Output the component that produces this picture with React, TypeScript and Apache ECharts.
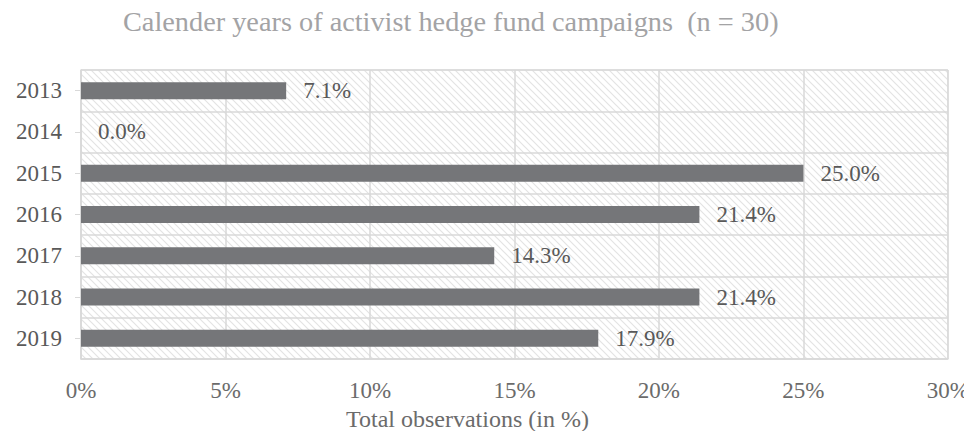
import React, { useEffect, useRef } from "react";
import * as echarts from "echarts";

const years = ["2013", "2014", "2015", "2016", "2017", "2018", "2019"];
const shares = [7.1, 0.0, 25.0, 21.4, 14.3, 21.4, 17.9];
const titleText = "Calender years of activist hedge fund campaigns  (n = 30)";
const axisName = "Total observations (in %)";

const FONT = "'Liberation Serif', 'Times New Roman', serif";

const tileSvg =
  "<svg xmlns='http://www.w3.org/2000/svg' width='7' height='7'>" +
  "<path d='M-1,-1 L8,8 M-1,6 L1,8 M6,-1 L8,1' stroke='#e3e3e3' stroke-width='1.2' fill='none'/></svg>";
const tileUrl = "data:image/svg+xml;charset=utf-8," + encodeURIComponent(tileSvg);

export default function App() {
  const ref = useRef<HTMLDivElement>(null);
  useEffect(() => {
    if (!ref.current) return;
    const chart = echarts.init(ref.current, undefined, { renderer: "svg" });
    chart.setOption({
      animation: false,
      backgroundColor: "#ffffff",
      title: {
        text: titleText,
        left: 118,
        top: 2,
        textStyle: { fontFamily: FONT, fontSize: 28.3, fontWeight: "normal", color: "#a3a3a5" },
      },
      grid: {
        left: 81,
        right: 22,
        top: 70,
        bottom: 80,
        show: true,
        borderColor: "#d9d9d9",
        borderWidth: 1,
        backgroundColor: { image: tileUrl, repeat: "repeat", imageWidth: 7, imageHeight: 7 },
      },
      xAxis: {
        type: "value",
        min: 0,
        max: 30,
        interval: 5,
        name: axisName,
        nameLocation: "middle",
        nameGap: 48,
        nameTextStyle: { fontFamily: FONT, fontSize: 24, color: "#6b6b6b", padding: [0, 94, 0, 0] },
        axisLine: { show: true, lineStyle: { color: "#d9d9d9", width: 1.5 } },
        axisTick: { show: false },
        axisLabel: {
          formatter: "{value}%",
          margin: 20,
          fontFamily: FONT,
          fontSize: 23,
          color: "#6b6b6b",
        },
        splitLine: { show: true, lineStyle: { color: "#d9d9d9", width: 1.5 } },
      },
      yAxis: {
        type: "category",
        inverse: true,
        data: years,
        axisLine: { show: true, lineStyle: { color: "#d9d9d9", width: 1.5 } },
        axisTick: { show: true, alignWithLabel: true, length: 6, lineStyle: { color: "#d9d9d9" } },
        axisLabel: { margin: 19, fontFamily: FONT, fontSize: 23, color: "#595959" },
        splitLine: { show: true, lineStyle: { color: "#d9d9d9", width: 1.5 } },
      },
      series: [
        {
          type: "bar",
          data: shares,
          barWidth: 17,
          itemStyle: { color: "#757679" },
          label: {
            show: true,
            position: "right",
            distance: 17,
            formatter: (p: any) => Number(p.value).toFixed(1) + "%",
            fontFamily: FONT,
            fontSize: 23,
            color: "#595959",
          },
        },
      ],
    });
    return () => chart.dispose();
  }, []);
  return <div ref={ref} style={{ width: 972, height: 439, margin: -8 }} />;
}
